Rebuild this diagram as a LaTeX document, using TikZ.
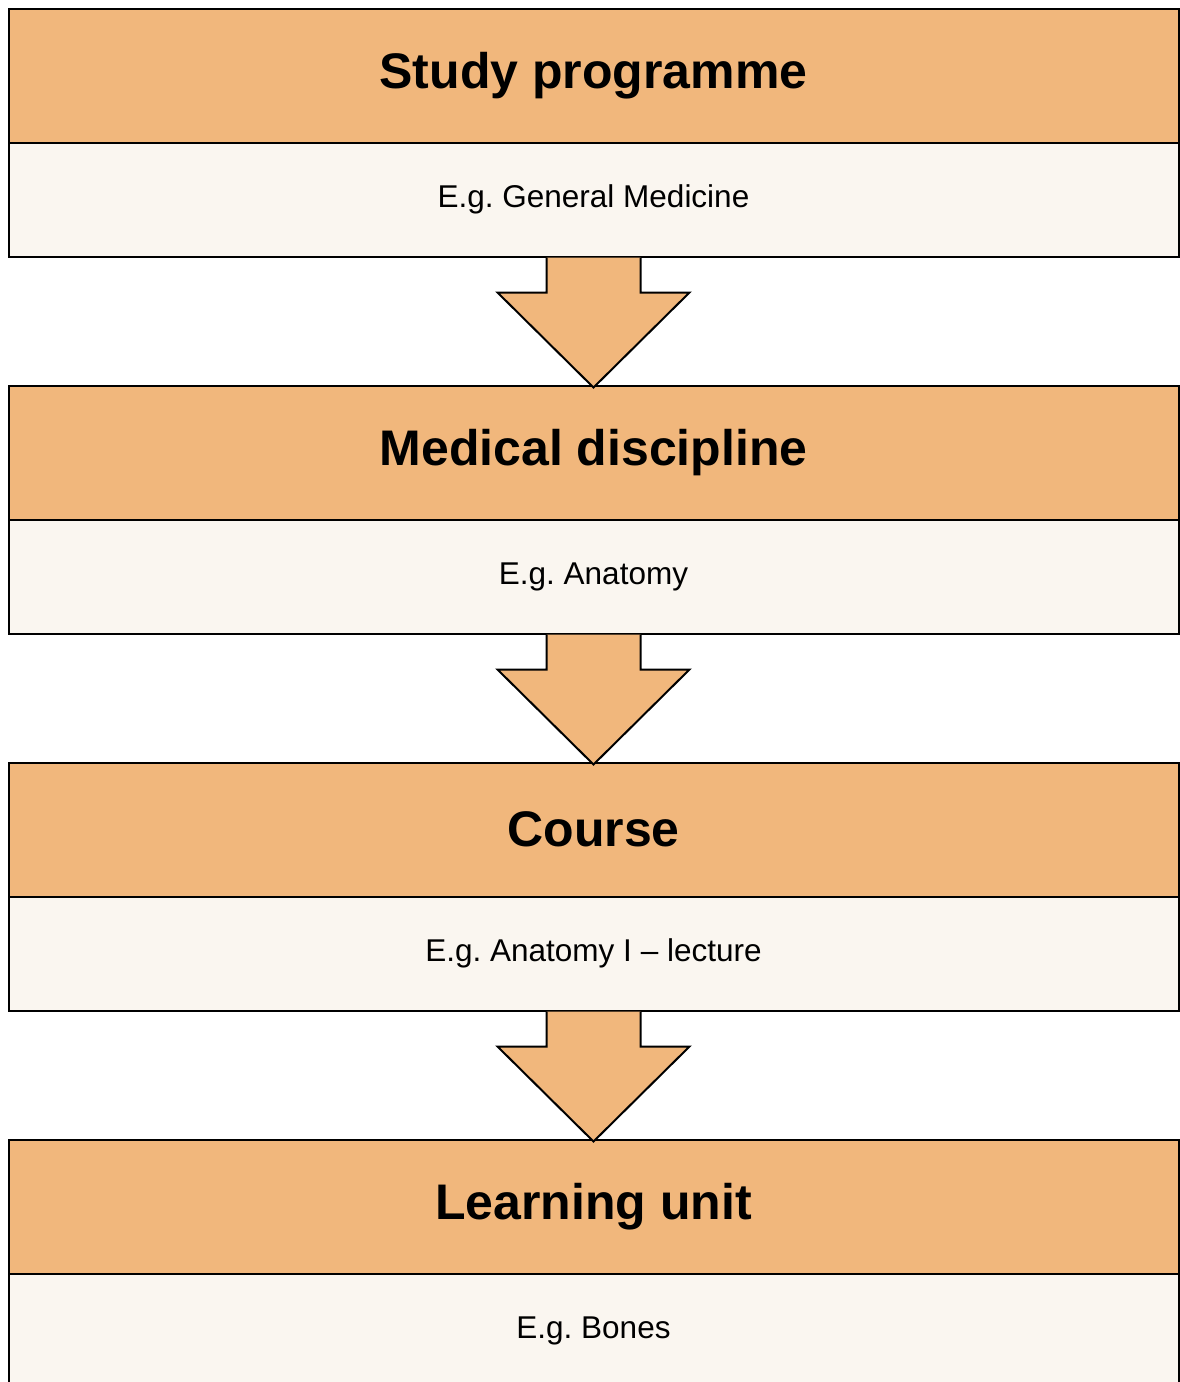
\documentclass[tikz,border=0pt]{standalone}
\usepackage{fontspec}
\setmainfont{Liberation Sans}
\usetikzlibrary{positioning,calc}
\frenchspacing
\definecolor{headorange}{HTML}{F1B77C}
\definecolor{bodycream}{HTML}{FAF6F0}
\tikzset{font=\fontsize{31.5}{36}\selectfont}
\tikzset{headbox/.style={draw,line width=2pt,fill=headorange,outer sep=0pt,inner sep=0pt,
    minimum width=1170pt,minimum height=134pt,font=\fontsize{50}{60}\selectfont\bfseries}}
\tikzset{bodybox/.style={draw,line width=2pt,fill=bodycream,outer sep=0pt,inner sep=0pt,
    minimum width=1170pt,minimum height=114pt}}
\tikzset{downarrow/.style={draw,line width=2pt,fill=headorange,line join=miter}}

\begin{document}
\begin{tikzpicture}[x=1pt,y=-1pt]
  \useasboundingbox (0,0) rectangle (1180,1382);

  \node[headbox] (h1) at (593.5,75.5) {Study programme};
  \node[bodybox,below=0pt of h1] (b1) {E.g. General Medicine};

  \node[headbox,below=129pt of b1] (h2) {Medical discipline};
  \node[bodybox,below=0pt of h2] (b2) {E.g. Anatomy};

  \node[headbox,below=129pt of b2] (h3) {Course};
  \node[bodybox,below=0pt of h3] (b3) {E.g. Anatomy I -- lecture};

  \node[headbox,below=129pt of b3] (h4) {Learning unit};
  \node[bodybox,below=0pt of h4] (b4) {E.g. Bones};

  \foreach \a/\b in {b1/h2,b2/h3,b3/h4}
    \draw[downarrow] ($(\a.south)+(-47,1)$) -- ($(\b.north)+(-47,-93)$)
      -- ($(\b.north)+(-96,-93)$) -- ($(\b.north)+(0,2)$)
      -- ($(\b.north)+(96,-93)$) -- ($(\b.north)+(47,-93)$)
      -- ($(\a.south)+(47,1)$);

\end{tikzpicture}
\end{document}
